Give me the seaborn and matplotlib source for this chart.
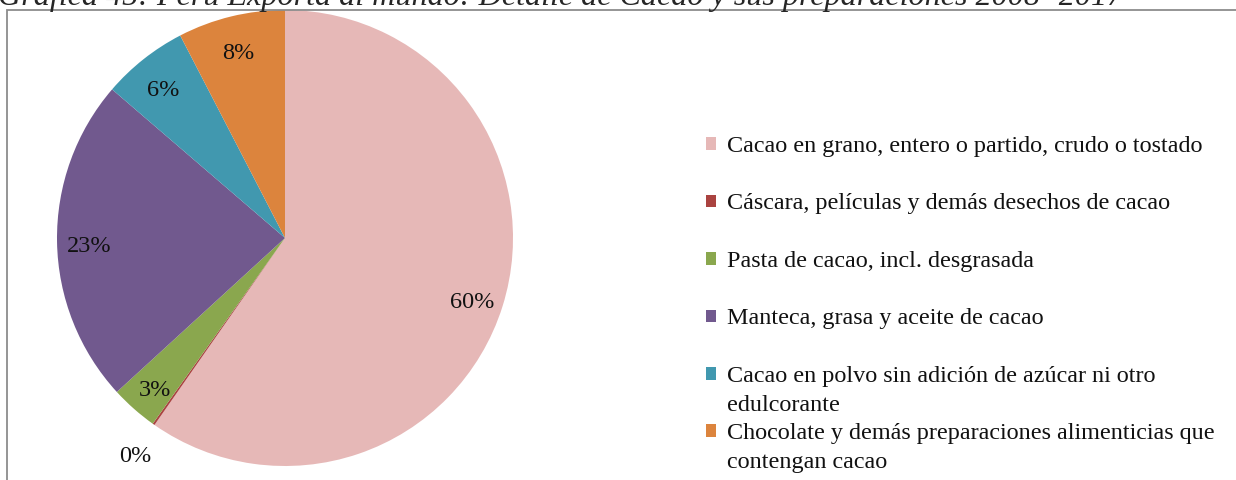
import matplotlib
matplotlib.use("Agg")
import matplotlib.pyplot as plt
import seaborn as sns
from matplotlib.patches import Rectangle

# Export shares of cacao products, Peru 2008-2017 (%)
categories = [
    "Cacao en grano, entero o partido, crudo o tostado",
    "Cáscara, películas y demás desechos de cacao",
    "Pasta de cacao, incl. desgrasada",
    "Manteca, grasa y aceite de cacao",
    "Cacao en polvo sin adición de azúcar ni otro\nedulcorante",
    "Chocolate y demás preparaciones alimenticias que\ncontengan cacao",
]
shares = [59.7, 0.15, 3.35, 23.1, 6.1, 7.6]
colours = ["#E6B8B7", "#AA4340", "#8AA74E", "#71598E", "#4198AF", "#DC843D"]
title = "Gráfica 45: Perú Exporta al mundo: Detalle de Cacao y sus preparaciones 2008 -2017"

sns.set_style("white")
plt.rcParams['font.family'] = ['Liberation Serif', 'DejaVu Serif']

W, H = 1236, 480
fig = plt.figure(figsize=(W / 100, H / 100), dpi=100)

# pie axes: square box, centre ~ (285, 238) px, radius 228 px
ax = fig.add_axes([57 / W, 14 / H, 456 / W, 456 / H])
wedges, texts, autotexts = ax.pie(
    shares, colors=colours, startangle=90, counterclock=False,
    autopct='%.0f%%', pctdistance=0.86,
    textprops=dict(fontsize=17.5, color='#111111'),
    wedgeprops=dict(linewidth=0))
ax.set_xlim(-1, 1)
ax.set_ylim(-1, 1)

for t, s in zip(autotexts, shares):
    t.set_va('center_baseline')
    x, y = t.get_position()
    # the tiny slice gets its label outside the pie
    if s < 1:
        x, y = x * 1.14 / 0.86, y * 1.14 / 0.86
    t.set_position((x, y - 0.015))

# legend: first lines only, continuation lines added below
first_lines = [c.split("\n")[0] for c in categories]
leg = fig.legend(wedges, first_lines, loc='upper left',
                 bbox_to_anchor=(706 / W, 1 - 136 / H), frameon=False,
                 fontsize=17.4, handlelength=0.43, handleheight=0.43,
                 handletextpad=0.45, labelspacing=1.51, borderpad=0,
                 borderaxespad=0)
for t in leg.get_texts():
    t.set_color('#111111')

fig.canvas.draw()
for txt, c in zip(leg.get_texts(), categories):
    parts = c.split("\n")
    if len(parts) > 1:
        bb = txt.get_window_extent()
        fig.text(bb.x0 / W, (bb.y0 - 29) / H, parts[1], fontsize=17.4,
                 va='bottom', ha='left', color='#111111')

# chart frame (cut at right and bottom like the source)
fig.add_artist(Rectangle((7 / W, -0.1), 1.2, (H - 10) / H + 0.1,
                         transform=fig.transFigure, fill=False,
                         edgecolor='#8c8c8c', lw=1.3))

# title, mostly cropped at the top
fig.text(-0.002, 1 - 5 / H, title, fontsize=23.1, style='italic',
         va='baseline', ha='left')

fig.savefig('out.png', dpi=100)
